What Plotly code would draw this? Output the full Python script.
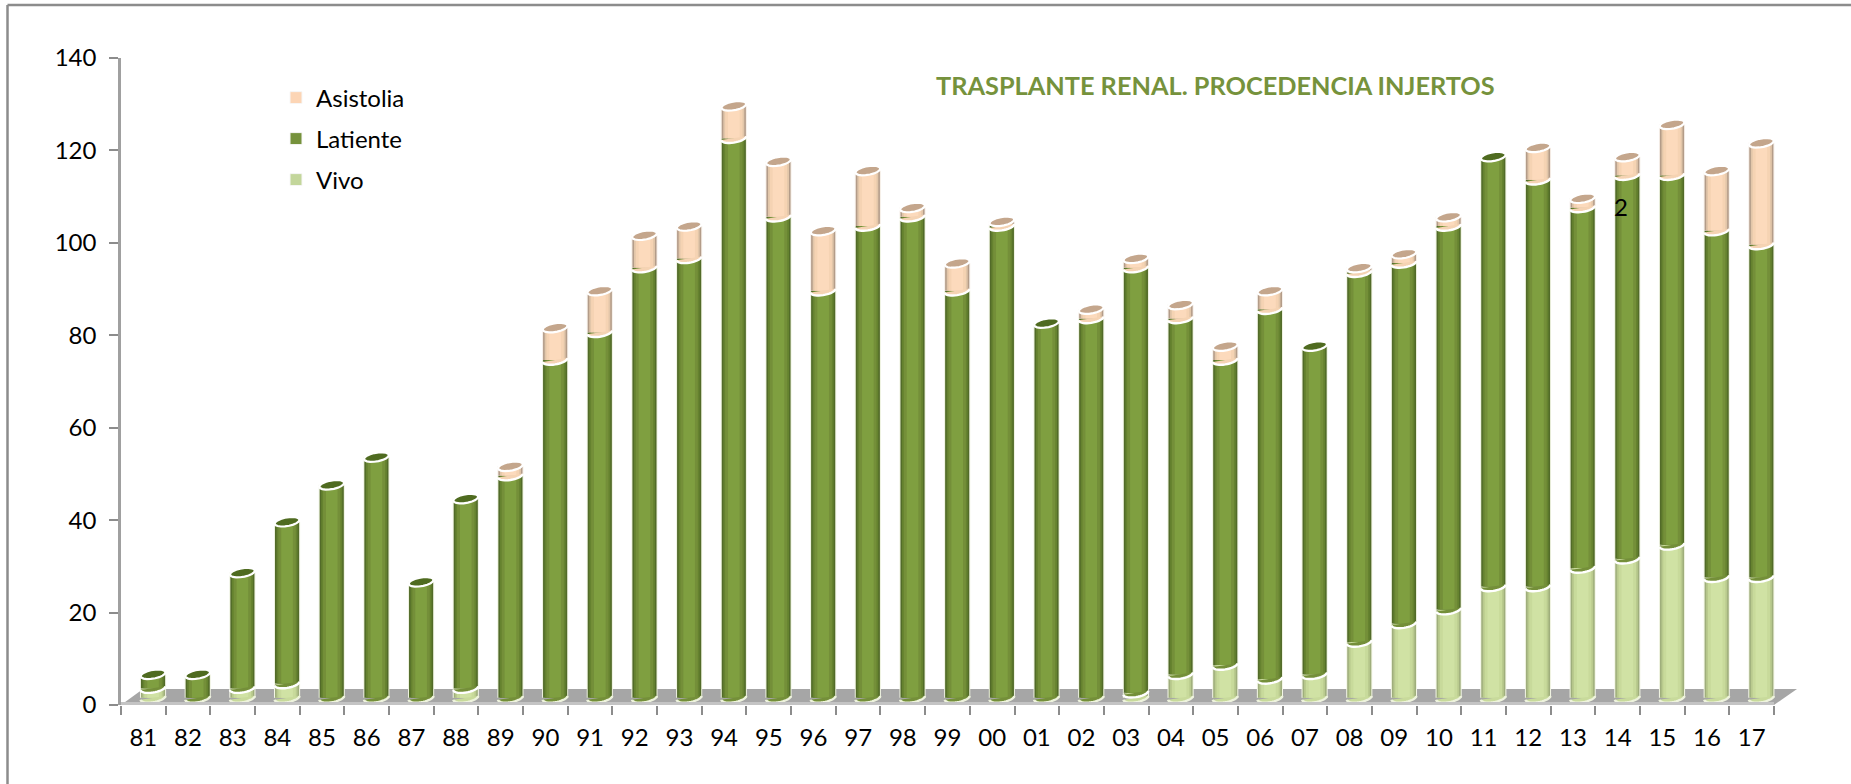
import numpy as np
import plotly.graph_objects as go

categories = ["81","82","83","84","85","86","87","88","89","90","91","92","93","94","95","96","97","98","99",
              "00","01","02","03","04","05","06","07","08","09","10","11","12","13","14","15","16","17"]
vivo = [3,0,3,4,0,0,0,3,0,0,0,0,0,0,0,0,0,0,0,0,0,0,2,6,8,5,6,13,17,20,25,25,29,31,34,27,27]
latiente = [3,6,25,35,47,53,26,41,49,74,80,94,96,122,105,89,103,105,89,103,82,83,92,77,66,80,71,80,78,83,93,88,78,83,80,75,72]
asistolia = [0,0,0,0,0,0,0,0,2,7,9,7,7,7,12,13,12,2,6,1,0,2,2,3,3,4,0,1,2,2,0,7,2,4,11,13,22]
y_ticks = [0,20,40,60,80,100,120,140]

W, H = 1851, 784
FONT = "Lato"
TICK_SIZE = 24
X0, X1 = 121.0, 1774.0        # front axis, px
Y0, Y140 = 705.0, 58.0
DX, DY = 9.7, 3.0             # depth offset of the bars from the front axis
PX_U = (Y0 - Y140) / 140
FLOOR = 0.9                   # where cylinders meet the floor

series = [
    ("Vivo", vivo, "#c3d69b", ["#f3f6e6", "#9fae7c", "#b9ca8e", "#c8da9b", "#d0e2a4"], "#c3d69b"),
    ("Latiente", latiente, "#76923c", ["#eef2e0", "#526b29", "#65822f", "#748f39", "#7f9f40"], "#4f6b20"),
    ("Asistolia", asistolia, "#fcd5b5", ["#f6efe8", "#b39c89", "#e2c6a9", "#f5d3b3", "#fcdabc"], "#c4a68c"),
]
LAYER_W = [0.585, 0.54, 0.47, 0.39, 0.26]
A = 0.278          # half width of ellipse, category units
B_PX, TILT_PX = 4.4, 1.9


def px(x): return x / W
def py(y): return 1 - y / H


def ellipse_path(cx, v, t0, t1, close):
    t = np.linspace(t0, t1, 19)
    xs = cx + A * np.cos(t)
    ys = v - (B_PX * np.sin(t) - TILT_PX * np.cos(t)) / PX_U
    d = " ".join(f"{'M' if i == 0 else 'L'}{x:.3f},{y:.3f}" for i, (x, y) in enumerate(zip(xs, ys)))
    return d + (" Z" if close else "")


fig = go.Figure()
# carries the categories for the front axis
fig.add_trace(go.Scatter(x=categories, y=[0] * len(categories), mode="markers", opacity=0,
                         showlegend=False, hoverinfo="skip", xaxis="x", yaxis="y"))

idx = np.arange(len(categories))
bottom = np.zeros(len(categories))
shapes = []

# frame and floor
line_col = "#8c8c8c"
shapes.append(dict(type="line", xref="paper", yref="paper", x0=px(7.5), x1=1, y0=py(5), y1=py(5), line=dict(color=line_col, width=2.5), layer="below"))
shapes.append(dict(type="line", xref="paper", yref="paper", x0=px(7.5), x1=px(7.5), y0=py(5), y1=0, line=dict(color=line_col, width=2.5), layer="below"))
floor_pts = [(X0, Y0), (X0 + 22, 689), (X1 + 23, 689), (X1, Y0)]
shapes.append(dict(type="path", xref="paper", yref="paper", layer="below", fillcolor="#a6a6a6", line=dict(width=0),
                   path="M" + " L".join(f"{px(a):.5f},{py(b):.5f}" for a, b in floor_pts) + " Z"))
shapes.append(dict(type="line", xref="paper", yref="paper", layer="below", x0=px(X0), x1=px(X1), y0=py(Y0 - 1.5), y1=py(Y0 - 1.5),
                   line=dict(color="#c4c4c4", width=3)))

legend_ids = {"Asistolia": "legend", "Latiente": "legend2", "Vivo": "legend3"}
for name, vals, col, layers, top_col in series:
    vals = np.array(vals, float)
    b = np.maximum(bottom, FLOOR)
    h = np.where(vals > 0, bottom + vals - b, 0)
    for i, (c, w) in enumerate(zip(layers, LAYER_W)):
        fig.add_trace(go.Bar(x=idx, y=h, base=b, width=w, name=name, marker=dict(color=c, line=dict(width=0)),
                             xaxis="x2", yaxis="y2", showlegend=False, hoverinfo="skip" if i != 3 else None))
    # legend swatch
    fig.add_trace(go.Bar(x=[None], y=[None], name=name, marker=dict(color=col, line=dict(width=1, color="#f7f7f7")),
                         xaxis="x2", yaxis="y2", showlegend=True, legend=legend_ids[name]))
    # lower arc of each segment
    for i in idx:
        if vals[i] > 0:
            v = max(bottom[i], FLOOR)
            shapes.append(dict(type="path", xref="x2", yref="y2", layer="above", fillcolor=layers[3], line=dict(width=0),
                               path=ellipse_path(i, v, 0, np.pi, True)))
            edge = "#eef3dd" if bottom[i] == 0 else "#ffffff"
            shapes.append(dict(type="path", xref="x2", yref="y2", layer="above", line=dict(color=edge, width=2.4),
                               path=ellipse_path(i, v, 0, np.pi, False)))
    bottom = bottom + vals

# top cap: colour of the uppermost segment
for i in idx:
    top_col = series[2][4] if asistolia[i] > 0 else series[1][4]
    shapes.append(dict(type="path", xref="x2", yref="y2", layer="above", fillcolor=top_col, line=dict(color="#ffffff", width=2.2),
                       path=ellipse_path(i, bottom[i], 0, 2 * np.pi, True)))

layout = dict(
    width=W, height=H, autosize=False, margin=dict(l=0, r=0, t=0, b=0, autoexpand=False),
    paper_bgcolor="#ffffff", plot_bgcolor="rgba(0,0,0,0)", barmode="overlay", shapes=shapes,
    font=dict(family=FONT, color="#000000", size=TICK_SIZE),
    xaxis=dict(type="category", categoryorder="array", categoryarray=categories, domain=[px(X0), px(X1)],
               range=[-0.5, len(categories) - 0.5], tickson="boundaries", ticks="outside", ticklen=9, tickwidth=2,
               tickcolor=line_col, showline=False, showgrid=False, zeroline=False, anchor="y", tickangle=0,
               tickfont=dict(family=FONT, size=TICK_SIZE, color="#000000"), ticklabelstandoff=16),
    yaxis=dict(domain=[py(Y0), py(Y140)], range=[0, 140], tickvals=y_ticks, ticks="outside", ticklen=9, tickwidth=2,
               tickcolor=line_col, showline=True, linecolor="#a0a0a0", linewidth=2.5, showgrid=False, zeroline=False, anchor="x",
               tickfont=dict(family=FONT, size=TICK_SIZE, color="#000000"), ticklabelstandoff=8),
    xaxis2=dict(domain=[px(X0 + DX), px(X1 + DX)], range=[-0.5, len(categories) - 0.5], visible=False, anchor="y2"),
    yaxis2=dict(domain=[py(Y0 - DY), py(Y140 - DY)], range=[0, 140], visible=False, anchor="x2"),
    annotations=[
        dict(text="<b>TRASPLANTE RENAL. PROCEDENCIA INJERTOS</b>", xref="paper", yref="paper", x=px(1215.5), y=py(85),
             showarrow=False, xanchor="center", yanchor="middle", font=dict(family=FONT, size=25.3, color="#76923c")),
        dict(text="2", xref="paper", yref="paper", x=px(1621), y=py(206), showarrow=False, xanchor="center", yanchor="middle",
             font=dict(family=FONT, size=TICK_SIZE, color="#000000")),
    ],
)
for key, name_y in {"legend": 98, "legend2": 139, "legend3": 180}.items():
    layout[key] = dict(x=px(276), y=py(name_y), xanchor="left", yanchor="middle",
                       bgcolor="rgba(0,0,0,0)", borderwidth=0,
                       font=dict(family=FONT, size=TICK_SIZE, color="#000000"), itemclick=False, itemdoubleclick=False)
fig.update_layout(**layout)
fig.write_html("out.html", config={"displayModeBar": False},
               post_script="document.body.style.margin='0';document.body.style.fontVariantLigatures='none';")
